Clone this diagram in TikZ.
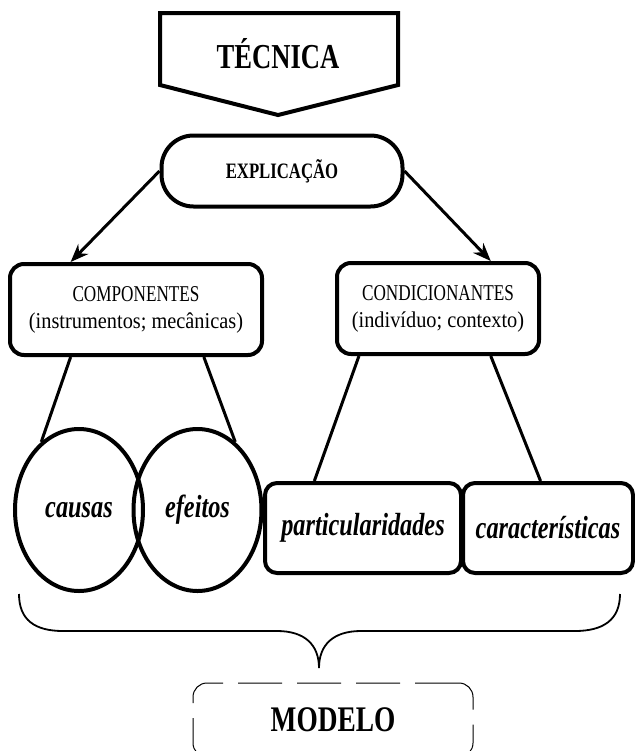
\documentclass[tikz,border=0pt]{standalone}
\usepackage{fontspec}
\setmainfont[FakeStretch=0.76]{Liberation Serif}
\newfontfamily\largo[FakeStretch=0.9]{Liberation Serif}
\usetikzlibrary{shapes.geometric,arrows.meta}

\tikzset{
  caixa/.style={draw,line width=2pt,rounded corners=7pt,align=center,
    font=\fontsize{11.3}{13.5}\selectfont},
  bola/.style={draw,ellipse,line width=2pt,minimum width=64pt,minimum height=81pt,
    inner sep=0pt,font=\fontsize{16}{18}\selectfont\bfseries\itshape},
  bloco/.style={draw,line width=2pt,rounded corners=6pt,minimum height=45pt,
    inner sep=0pt,font=\fontsize{16}{18}\selectfont\bfseries\itshape},
  ramo/.style={line width=1.5pt},
  >={Stealth[length=9pt,width=7pt]}
}

\begin{document}
\begin{tikzpicture}[x=0.5pt,y=-0.5pt]
      \useasboundingbox (0,0) rectangle (635,751);

      % seta do topo
      \draw[line width=2pt] (160,13) -- (398,13) -- (398,85) -- (278,115) -- (160,85) -- cycle;
      \node[anchor=base,font=\fontsize{17.5}{20}\selectfont\bfseries] (tecnica) at (278,68) {TÉCNICA};

      \node[caixa,rounded corners=16pt,minimum width=120.5pt,minimum height=35.5pt,
        font=\fontsize{11}{13}\selectfont\bfseries] (expl) at (282,171) {EXPLICAÇÃO};

      \node[caixa,minimum width=126pt,minimum height=45.5pt] (comp) at (136,309.5)
        {COMPONENTES\\{\largo (instrumentos; mecânicas)}};
      \node[caixa,minimum width=101pt,minimum height=45.5pt] (cond) at (438,308.5)
        {CONDICIONANTES\\{\largo (indivíduo; contexto)}};

      \draw[ramo,->] (expl.west) -- (comp.144);
      \draw[ramo,->] (expl.east) -- (cond.42);

      \node[bola] (causas) at (79,510) {causas};
      \node[bola] (efeitos) at (197.5,510) {efeitos};
      \node[bloco,minimum width=98pt] (part) at (363,528) {particularidades};
      \node[bloco,minimum width=85pt] (carac) at (548,528) {características};

      \draw[ramo] (comp.-144) -- (causas.119);
      \draw[ramo] (comp.-35) -- (efeitos.61);
      \draw[ramo] (cond.-149) -- (part.136);
      \draw[ramo] (cond.-42) -- (carac.99);

      % chave
      \draw[line width=0.9pt] (19,594) .. controls (19,620) and (35,631) .. (63,631) -- (277,631)
        .. controls (305,631) and (319,645) .. (319,668)
        .. controls (319,645) and (333,631) .. (361,631) -- (575,631)
        .. controls (603,631) and (620,620) .. (620,594);

      \node[draw,line width=0.5pt,dash pattern=on 22pt off 7.5pt,rounded corners=7pt,
        minimum width=140pt,minimum height=37pt,
        font=\fontsize{18}{20}\selectfont\bfseries] (modelo) at (333,720) {MODELO};
\end{tikzpicture}
\end{document}
